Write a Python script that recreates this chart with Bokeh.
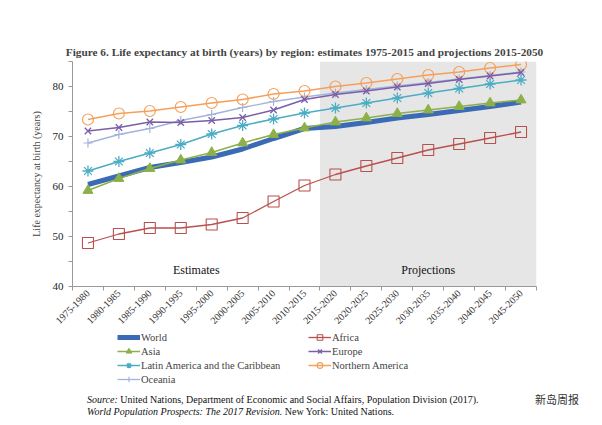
import math
from bokeh.plotting import figure
from bokeh.models import BoxAnnotation, Label, Legend, LegendItem, FixedTicker, Div
from bokeh.layouts import column
from bokeh.embed import file_html
from bokeh.resources import INLINE

periods = ["1975-1980", "1980-1985", "1985-1990", "1990-1995", "1995-2000",
           "2000-2005", "2005-2010", "2010-2015", "2015-2020", "2020-2025",
           "2025-2030", "2030-2035", "2035-2040", "2040-2045", "2045-2050"]

world = [60.4, 62.1, 63.8, 64.8, 65.9, 67.5, 69.6, 71.6, 72.0, 72.8, 73.7, 74.4, 75.2, 76.0, 76.9]
africa = [48.7, 50.5, 51.7, 51.7, 52.4, 53.7, 57.0, 60.2, 62.4, 64.1, 65.7, 67.3, 68.5, 69.7, 70.9]
asia = [59.2, 61.6, 63.6, 65.3, 66.8, 68.7, 70.4, 71.7, 72.9, 73.7, 74.6, 75.3, 76.0, 76.7, 77.3]
europe = [71.1, 71.8, 72.9, 72.8, 73.2, 73.8, 75.3, 77.4, 78.4, 79.1, 79.9, 80.6, 81.4, 82.1, 82.8]
latam = [63.1, 65.0, 66.7, 68.4, 70.5, 72.2, 73.5, 74.7, 75.7, 76.7, 77.7, 78.7, 79.6, 80.5, 81.3]
namerica = [73.4, 74.6, 75.1, 75.9, 76.7, 77.4, 78.5, 79.1, 80.0, 80.7, 81.5, 82.3, 82.9, 83.7, 84.4]
oceania = [68.7, 70.4, 71.6, 73.2, 74.4, 75.8, 77.0, 77.9, 78.7, 79.4, 80.1, 80.8, 81.5, 82.2, 82.9]

title_text = "Figure 6. Life expectancy at birth (years) by region: estimates 1975-2015 and projections 2015-2050"
y_label = "Life expectancy at birth (years)"
legend_left = ["World", "Asia", "Latin America and the Caribbean", "Oceania"]
legend_right = ["Africa", "Europe", "Northern America"]

xs = list(range(len(periods)))
SERIF = "Liberation Serif"

C_WORLD = "#3b6bb5"
C_AFR = "#b8504d"
C_ASIA = "#8db048"
C_EUR = "#7a5fa6"
C_LAT = "#4badc4"
C_NAM = "#f5a05a"
C_OCE = "#a3b3dc"

p = figure(width=600, height=330, x_range=(-0.5, len(periods) - 0.5), y_range=(40, 85),
           output_backend="svg", toolbar_location=None,
           min_border_left=72, min_border_right=64, min_border_top=61, min_border_bottom=43)

p.title.text = title_text
p.title.text_font = SERIF
p.title.text_font_style = "bold"
p.title.text_font_size = "11.3px"
p.title.align = "center"
p.title.standoff = 8

p.outline_line_color = None
p.xgrid.grid_line_color = None
p.ygrid.grid_line_color = None
p.background_fill_color = "white"

# shaded projections area
p.add_layout(BoxAnnotation(left=7.5, fill_color="#e6e6e6", fill_alpha=1.0, line_color=None, level="underlay"))

# x axis
p.xaxis.ticker = FixedTicker(ticks=xs, minor_ticks=[i - 0.5 for i in range(len(periods) + 1)])
p.xaxis.major_label_overrides = {i: s for i, s in enumerate(periods)}
p.xaxis.major_label_orientation = math.pi / 4
p.xaxis.major_label_text_font = SERIF
p.xaxis.major_label_text_font_size = "10px"
p.xaxis.major_label_text_color = "#333333"
p.xaxis.major_tick_line_color = None
p.xaxis.major_tick_out = 0
p.xaxis.major_tick_in = 0
p.xaxis.minor_tick_line_color = "#999999"
p.xaxis.minor_tick_out = 4
p.xaxis.minor_tick_in = 0
p.xaxis.axis_line_color = "#999999"
p.xaxis.major_label_standoff = 1

# y axis
p.yaxis.ticker = FixedTicker(ticks=[40, 50, 60, 70, 80], minor_ticks=[45, 55, 65, 75, 85])
p.yaxis.axis_label = y_label
p.yaxis.axis_label_text_font = SERIF
p.yaxis.axis_label_text_font_style = "normal"
p.yaxis.axis_label_text_font_size = "10px"
p.yaxis.axis_label_standoff = 8
p.yaxis.major_label_text_font = SERIF
p.yaxis.major_label_text_font_size = "11px"
p.yaxis.major_label_text_color = "#222222"
p.yaxis.axis_line_color = "#999999"
p.yaxis.major_tick_line_color = "#999999"
p.yaxis.minor_tick_line_color = "#999999"
p.yaxis.major_tick_out = 4
p.yaxis.major_tick_in = 0
p.yaxis.minor_tick_out = 4
p.yaxis.minor_tick_in = 0

# text labels
p.add_layout(Label(x=3.5, y=43.3, text="Estimates", text_font=SERIF, text_font_size="12px",
                   text_align="center", text_baseline="middle", text_color="#111111"))
p.add_layout(Label(x=11.0, y=43.3, text="Projections", text_font=SERIF, text_font_size="12px",
                   text_align="center", text_baseline="middle", text_color="#111111"))


def draw_series(fig):
    r = {}
    r["Oceania"] = [fig.line(xs, oceania, line_color=C_OCE, line_width=1.3),
                    fig.scatter(xs, oceania, marker="cross", size=9, line_color=C_OCE, line_width=1.2)]
    r["Northern America"] = [fig.line(xs, namerica, line_color=C_NAM, line_width=1.5),
                             fig.scatter(xs, namerica, marker="circle", size=11, line_color=C_NAM,
                                         fill_color=None, line_width=1.2)]
    r["Europe"] = [fig.line(xs, europe, line_color=C_EUR, line_width=1.5),
                   fig.scatter(xs, europe, marker="x", size=9, line_color=C_EUR, line_width=1.3)]
    r["Latin America and the Caribbean"] = [
        fig.line(xs, latam, line_color=C_LAT, line_width=1.5),
        fig.scatter(xs, latam, marker="asterisk", size=11, line_color=C_LAT, line_width=1.3)]
    r["Africa"] = [fig.line(xs, africa, line_color=C_AFR, line_width=1.3),
                   fig.scatter(xs, africa, marker="square", size=11, line_color=C_AFR,
                               fill_color=None, line_width=1.1)]
    r["World"] = [fig.line(xs, world, line_color=C_WORLD, line_width=5)]
    r["Asia"] = [fig.line(xs, asia, line_color=C_ASIA, line_width=1.5),
                 fig.scatter(xs, asia, marker="triangle", size=10, line_color=C_ASIA, fill_color=C_ASIA)]
    return r


draw_series(p)

# legend panel (a separate figure whose own copies of the series lie outside its view)
lg = figure(width=600, height=56, x_range=(1000, 1001), y_range=(1000, 1001),
            output_backend="svg", toolbar_location=None, min_border=0)
lg.axis.visible = False
lg.grid.visible = False
lg.outline_line_color = None
lr = draw_series(lg)

legend_style = dict(label_text_font=SERIF, label_text_font_size="10.5px", glyph_width=23,
                    glyph_height=14, label_height=14, label_standoff=1, spacing=0,
                    padding=0, margin=0, border_line_color=None, background_fill_alpha=0)
leg1 = Legend(items=[LegendItem(label=l, renderers=lr[l]) for l in legend_left],
              location=(45, 0), **legend_style)
leg2 = Legend(items=[LegendItem(label=l, renderers=lr[l]) for l in legend_right],
              location=(236, 14), **legend_style)
lg.add_layout(leg1)
lg.add_layout(leg2)

src = Div(text=("<div style=\"position:relative;font-family:'Liberation Serif';font-size:10px;line-height:12px;"
                "color:#111;padding-left:82px;padding-top:3px;\">"
                "<i>Source:</i> United Nations, Department of Economic and Social Affairs, Population Division (2017).<br>"
                "<i>World Population Prospects: The 2017 Revision.</i> New York: United Nations."
                "<span style=\"position:absolute;left:530px;top:2px;white-space:nowrap;"
                "font-family:'Noto Sans CJK SC';font-size:11px;color:#333;\">新岛周报</span></div>"),
          width=600, height=36)

layout = column(p, lg, src, spacing=0)
open("out.html", "w").write(file_html(layout, INLINE))
